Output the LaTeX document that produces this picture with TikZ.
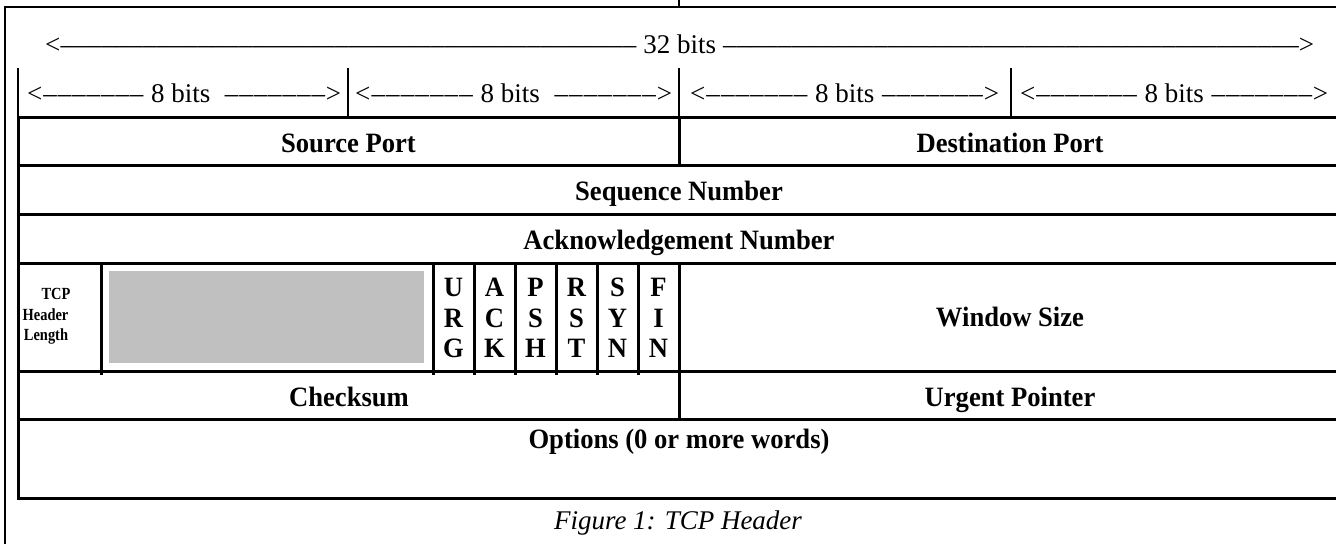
\documentclass[tikz,border=0pt]{standalone}
\usepackage{fontspec}
\setmainfont{Liberation Serif}
\newfontfamily\fieldfont[FakeStretch=0.95]{Liberation Serif}
\newfontfamily\smallfieldfont[FakeStretch=0.85]{Liberation Serif}
% a width label: < followed by en-dash leaders, the text, more leaders and >
\newcommand\bitrule[2]{\hbox to #1{<\xleaders\hbox{\textendash}\hfill#2\xleaders\hbox{\textendash}\hfill>}}
\begin{document}
\begin{tikzpicture}[x=1pt,y=-1pt,
  frameline/.style={line width=1.2pt},
  gridline/.style={line width=1.2pt},
  cellline/.style={line width=3pt,line cap=rect},
  widthlbl/.style={font=\fontsize{27}{32}\selectfont,inner sep=0,anchor=base west},
  fieldlbl/.style={font=\fieldfont\fontsize{28}{32}\selectfont\bfseries,inner sep=0,anchor=base},
  flaglbl/.style={font=\fieldfont\fontsize{28}{32}\selectfont\bfseries,inner sep=0,anchor=base},
  smalllbl/.style={font=\smallfieldfont\fontsize{17}{20}\selectfont\bfseries,inner sep=0,anchor=base},
  caplbl/.style={font=\fontsize{27}{32}\selectfont\itshape,inner sep=0,anchor=base}]
\useasboundingbox (0,0) rectangle (1336,544);
\fill[white] (0,0) rectangle (1336,544);

% surrounding page frame
\draw[frameline] (5,544) -- (5,7) -- (1340,7);
\draw[frameline] (679,0) -- (679,7);

% width scales
\node[widthlbl] (w32) at (45,53) {\bitrule{1269pt}{\ 32 bits\ }};
\node[widthlbl] (wa) at (27,102)  {\bitrule{314pt}{\ 8 bits\ \ }};
\node[widthlbl] (wb) at (355,102) {\bitrule{317pt}{\ 8 bits\ \ }};
\node[widthlbl] (wc) at (690,102) {\bitrule{309pt}{\ 8 bits\ }};
\node[widthlbl] (wd) at (1020,102){\bitrule{308pt}{\ 8 bits\ }};
\foreach \x in {18,348,679,1011} \draw[gridline] (\x,68) -- (\x,117);

% unused bits
\fill[fill={rgb,255:red,192;green,192;blue,192}] (109,271) rectangle (424,363);

% header grid
\draw[cellline] (1345,117) -- (18,117) -- (18,498) -- (1345,498);
\foreach \y in {165,214,263,371,419} \draw[cellline] (18,\y) -- (1345,\y);
\draw[cellline] (679,117) -- (679,165);
\draw[cellline] (679,371) -- (679,419);
\draw[cellline] (679,263) -- (679,371);
\foreach \x in {101,433,474,515,556,597,638} \draw[cellline] (\x,263) -- (\x,373);

% field names
\node[fieldlbl] (src) at (348.5,152.5) {Source Port};
\node[fieldlbl] (dst) at (1010,152.5) {Destination Port};
\node[fieldlbl] (seq) at (679,200.5) {Sequence Number};
\node[fieldlbl] (ack) at (679,249.5) {Acknowledgement Number};
\node[fieldlbl] (win) at (1010,326) {Window Size};
\node[fieldlbl] (chk) at (349,406.5) {Checksum};
\node[fieldlbl] (urg) at (1010,406.5) {Urgent Pointer};
\node[fieldlbl] (opt) at (679,448) {Options (0 or more words)};

% data offset
\node[smalllbl] (hl1) at (56,299) {TCP};
\node[smalllbl] (hl2) at (45.5,320.5) {Header};
\node[smalllbl] (hl3) at (46,340.5) {Length};

% control flags, one letter per line
\foreach \name/\a/\b/\c [count=\i from 0] in {urgf/U/R/G,ackf/A/C/K,pshf/P/S/H,rstf/R/S/T,synf/S/Y/N,finf/F/I/N} {
  \pgfmathsetmacro\cx{453.5+41*\i}
  \node[flaglbl] (\name1) at (\cx,296.5) {\a};
  \node[flaglbl] (\name2) at (\cx,327.5) {\b};
  \node[flaglbl] (\name3) at (\cx,357.5) {\c};
}

% caption
\node[caplbl] (cap) at (678,529) {Figure 1: TCP Header};
\end{tikzpicture}
\end{document}
